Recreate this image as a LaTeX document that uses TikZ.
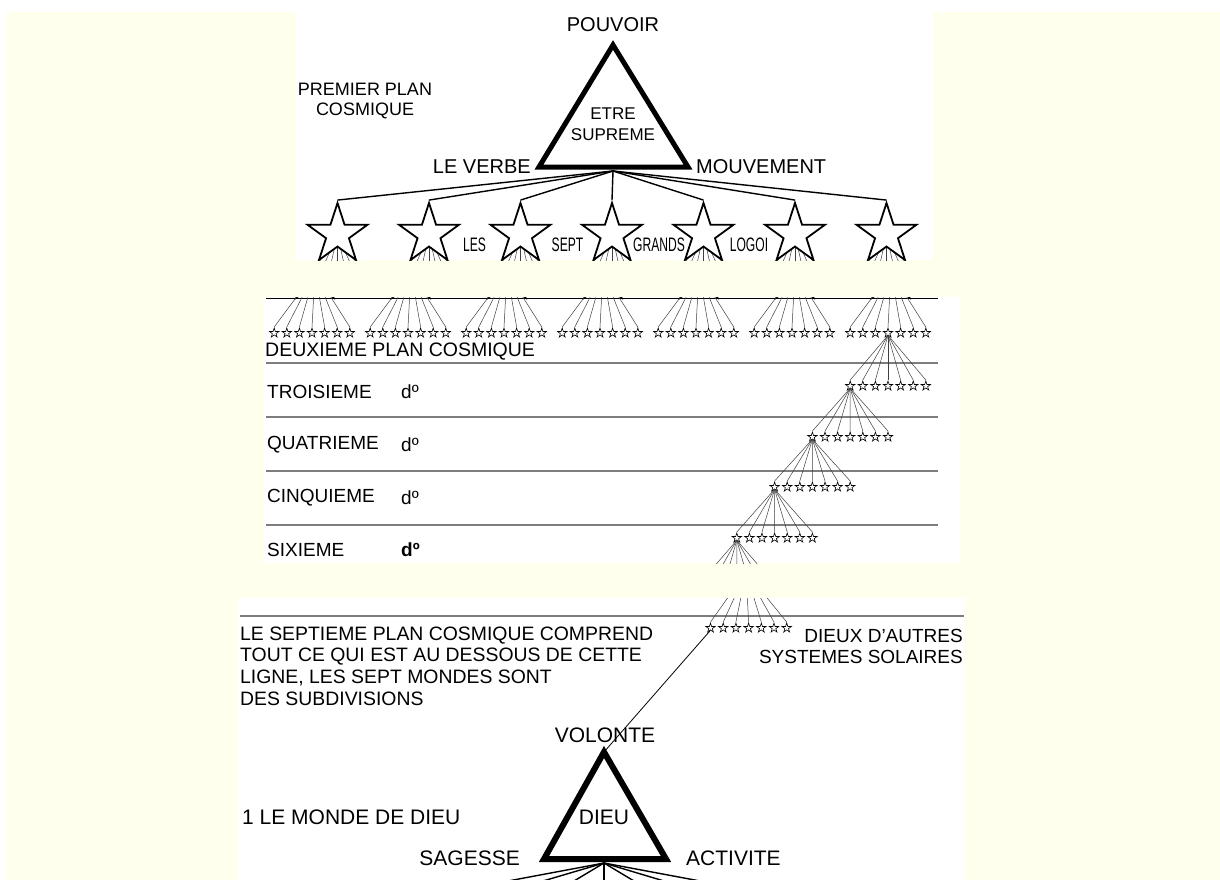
\documentclass[tikz,border=0pt]{standalone}
\usepackage{fontspec}
\setmainfont{Liberation Sans}
\newfontfamily\narrowsans[FakeStretch=0.62]{Liberation Sans}
\usetikzlibrary{shapes.geometric}
\definecolor{bgyellow}{RGB}{255,255,238}
\definecolor{rulegray}{RGB}{125,125,125}
\begin{document}
\begin{tikzpicture}[x=1pt,y=-1pt,
  lab/.style={inner sep=0pt, font=\fontsize{20}{20}\selectfont},
  labs/.style={inner sep=0pt, font=\fontsize{19}{19}\selectfont},
  labb/.style={inner sep=0pt, font=\fontsize{21}{21}\selectfont},
  labn/.style={inner sep=0pt, font=\narrowsans\fontsize{19.5}{19.5}\selectfont},
  bigstar/.style={star, star points=5, star point ratio=2.618, minimum size=63pt,
    inner sep=0pt, draw=black, line width=1.8pt, fill=white},
  smallstar/.style={star, star points=5, star point ratio=2.618, minimum size=10pt,
    inner sep=0pt, draw=black, line width=0.6pt, fill=white},
  fanline/.style={draw=black!75, line width=0.5pt},
  bigfan/.style={draw=black, line width=1.4pt},
  tri/.style={draw=black, line width=5pt, line join=miter},
  plane/.style={draw=rulegray, line width=1.4pt},
]
\useasboundingbox (0,0) rectangle (1220,880);
\fill[white] (0,0) rectangle (1220,880);
\fill[bgyellow] (6,12) rectangle (1220,880);
\fill[white] (296,12) rectangle (933,260);
\fill[white] (264,297) rectangle (960,563);
\fill[white] (238,598) rectangle (964,880);

% ---------------- panel 1
\begin{scope}
\clip (296,12) rectangle (933,260);
\node[lab] (pouvoir) at (613,25) {POUVOIR};
\node[inner sep=0pt, align=center, font=\fontsize{18}{19.5}\selectfont] (premier) at (365,101) {PREMIER PLAN\\COSMIQUE};
\coordinate (A) at (613,45);
\coordinate (L) at (539,167);
\coordinate (R) at (688,167);
\draw[tri] (A) -- (L) -- (R) -- cycle;
\node[inner sep=0pt, align=center, font=\fontsize{17}{21}\selectfont] (etre) at (613,124) {ETRE\\SUPREME};
\node[lab, anchor=east] (verbe) at (531,167) {LE VERBE};
\node[lab, anchor=west] (mouv) at (696,167) {MOUVEMENT};
\coordinate (F) at (613,171);
\foreach \i in {1,...,7}{
  \coordinate (c\i) at ({612+91.5*(\i-4)},234.5);
  \foreach \k in {0,...,6}{
    \coordinate (u\i\k) at ({612+91.5*(\i-4)+12.6*(\k-3)},291);
    \draw[fanline] (c\i) -- (u\i\k);
  }
  \node[bigstar] (B\i) at (c\i) {};
  \draw[bigfan] (F) -- (B\i.north);
}
\node[labn] (les) at (474.5,245) {LES};
\node[labn] (sept) at (567.5,245) {SEPT};
\node[labn] (grands) at (659,245) {GRANDS};
\node[labn] (logoi) at (749,245) {LOGOI};
\end{scope}

% ---------------- panel 2
\begin{scope}
\clip (264,297) rectangle (960,563);
\foreach \j in {1,...,7}{
  \node[bigstar] (D\j) at ({315+96*(\j-1)},272) {};
}
\draw[black, line width=0.9pt] (266,298) -- (938,298);
\foreach \j in {1,...,7}{
  \foreach \k in {0,...,6}{
    \node[smallstar] (s\j\k) at ({312+96*(\j-1)+12.6*(\k-3)},333) {};
    \draw[fanline] (D\j.center) -- (s\j\k.north);
  }
}
\foreach \y in {363,417,471,525}{
  \draw[plane] (266,\y) -- (938,\y);
}
\node[inner sep=0pt, font=\fontsize{19.5}{19.5}\selectfont, anchor=west] (deux) at (265,352) {DEUXIEME PLAN COSMIQUE};
\node[labs, anchor=west] (trois) at (267,392) {TROISIEME};
\node[labs, anchor=west] (trdo) at (401,392) {dº};
\node[labs, anchor=west] (quat) at (267,445) {QUATRIEME};
\node[labs, anchor=west] (qudo) at (401,445) {dº};
\node[labs, anchor=west] (cinq) at (267,498) {CINQUIEME};
\node[labs, anchor=west] (cido) at (401,498) {dº};
\node[labs, anchor=west] (six) at (267,550) {SIXIEME};
\node[labs, anchor=west, font=\bfseries\fontsize{19}{19}\selectfont] (sido) at (401,550) {dº};
% chain of rows
\foreach \k in {0,...,6}{
  \node[smallstar] (ra\k) at ({888+12.6*(\k-3)},386) {};
  \draw[fanline] (s73.south) -- (ra\k.north);
}
\foreach \k in {0,...,6}{
  \node[smallstar] (rb\k) at ({850.2+12.6*(\k-3)},437) {};
  \draw[fanline] (ra0.south) -- (rb\k.north);
}
\foreach \k in {0,...,6}{
  \node[smallstar] (rc\k) at ({812.4+12.6*(\k-3)},487) {};
  \draw[fanline] (rb0.south) -- (rc\k.north);
}
\foreach \k in {0,...,6}{
  \node[smallstar] (rd\k) at ({774.6+12.6*(\k-3)},538) {};
  \draw[fanline] (rc0.south) -- (rd\k.north);
}
\foreach \k in {0,...,6}{
  \coordinate (ve\k) at ({736.8+12.6*(\k-3)},584);
  \draw[fanline] (rd0.south) -- (ve\k);
}
\end{scope}

% ---------------- panel 3
\begin{scope}
\clip (238,598) rectangle (964,880);
\draw[plane] (240,616) -- (964,616);
\coordinate (w) at (746,572);
\foreach \k in {0,...,6}{
  \node[smallstar] (q\k) at ({710.5+12.7*\k},628) {};
  \draw[fanline] (w) -- (q\k.north);
}
\node[inner sep=0pt, font=\fontsize{19.4}{19.4}\selectfont, anchor=west] (t1) at (240,636) {LE SEPTIEME PLAN COSMIQUE COMPREND};
\node[inner sep=0pt, font=\fontsize{19.4}{19.4}\selectfont, anchor=west] (t2) at (240,657) {TOUT CE QUI EST AU DESSOUS DE CETTE};
\node[inner sep=0pt, font=\fontsize{19.4}{19.4}\selectfont, anchor=west] (t3) at (240,678) {LIGNE, LES SEPT MONDES SONT};
\node[inner sep=0pt, font=\fontsize{19.4}{19.4}\selectfont, anchor=west] (t4) at (240,699) {DES SUBDIVISIONS};
\node[labs, anchor=east] (dx1) at (963,636) {DIEUX D'AUTRES};
\node[labs, anchor=east] (dx2) at (963,657) {SYSTEMES SOLAIRES};
\node[labb] (volonte) at (605,735) {VOLONTE};
\coordinate (A2) at (604,752);
\coordinate (L2) at (544,859);
\coordinate (R2) at (666,859);
\draw[tri, line width=6pt] (A2) -- (L2) -- (R2) -- cycle;
\draw[draw=black, line width=0.8pt] (q0.south) -- (A2);
\node[labb] (dieu) at (604,817) {DIEU};
\node[labb, anchor=west] (monde) at (242,817) {1 LE MONDE DE DIEU};
\node[labb, anchor=east] (sagesse) at (520,858) {SAGESSE};
\node[labb, anchor=west] (activite) at (686,858) {ACTIVITE};
\coordinate (F2) at (604,863);
\foreach \k/\x in {0/508,1/543,2/574,3/604,4/634,5/664,6/700}{
  \coordinate (b\k) at (\x,881);
  \draw[bigfan] (F2) -- (b\k);
}
\end{scope}
\end{tikzpicture}
\end{document}
